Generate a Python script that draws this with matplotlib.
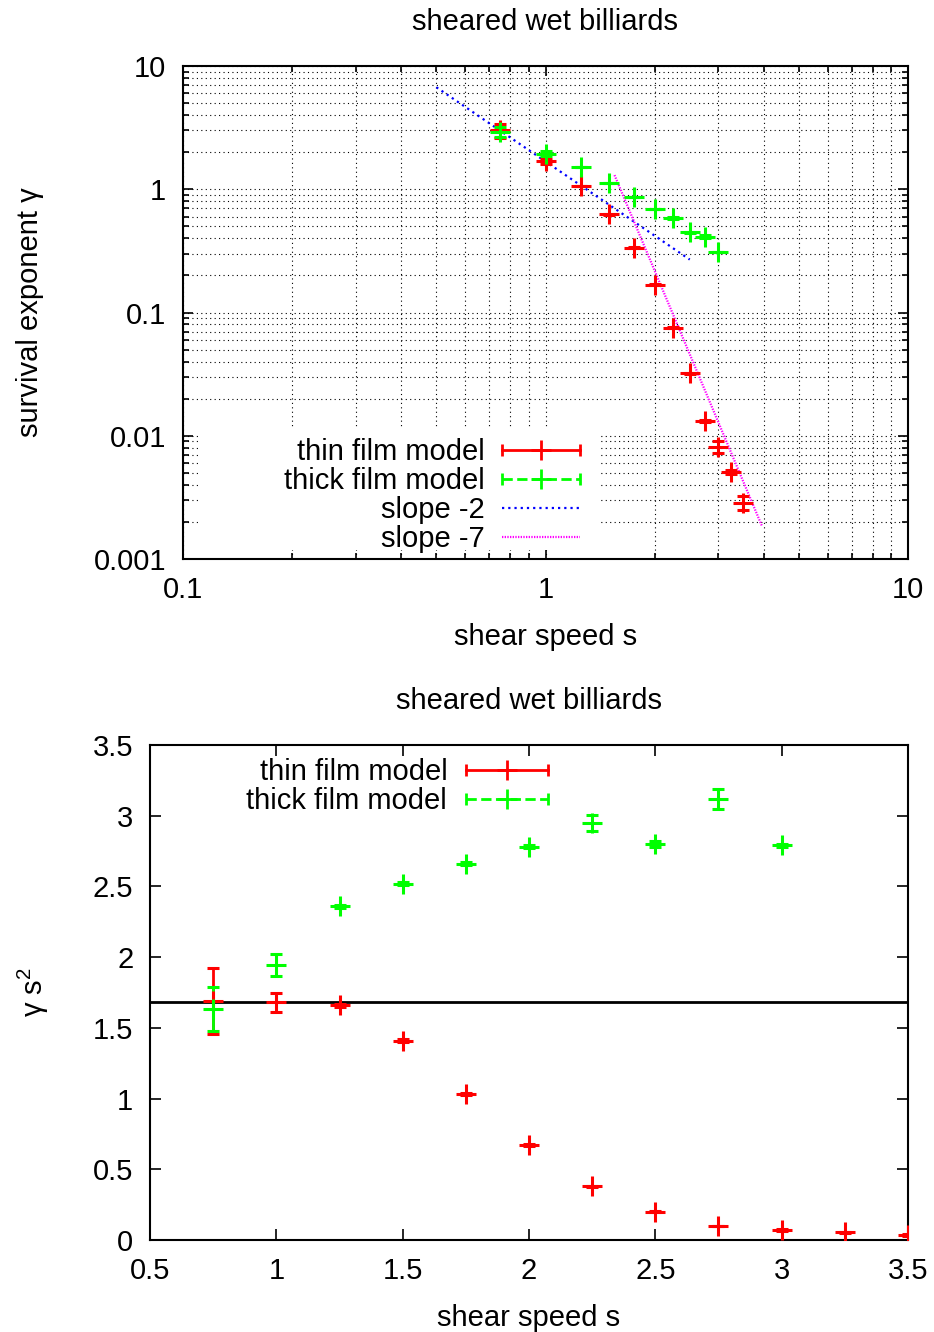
import numpy as np
import matplotlib
matplotlib.use("Agg")
import matplotlib.pyplot as plt
from matplotlib.lines import Line2D
from matplotlib.patches import Rectangle
from matplotlib.legend_handler import HandlerBase

plt.rcParams['font.family'] = ['Liberation Sans', 'DejaVu Sans']
plt.rcParams['font.size'] = 21
plt.rcParams['mathtext.fontset'] = 'custom'
plt.rcParams['mathtext.rm'] = 'Liberation Sans'
plt.rcParams['mathtext.default'] = 'regular'

# shear speeds and gamma*s^2 for both models
s_thin = [0.75, 1.0, 1.25, 1.5, 1.75, 2.0, 2.25, 2.5, 2.75, 3.0, 3.25, 3.5]
gs2_thin = [1.69, 1.68, 1.66, 1.41, 1.03, 0.67, 0.38, 0.20, 0.10, 0.073, 0.054, 0.035]
err_thin = [0.23, 0.065, 0.012, 0.01, 0.008, 0.006, 0.004, 0.003, 0.002, 0.008, 0.002, 0.0045]

s_thick = [0.75, 1.0, 1.25, 1.5, 1.75, 2.0, 2.25, 2.5, 2.75, 3.0]
gs2_thick = [1.635, 1.945, 2.36, 2.52, 2.66, 2.78, 2.95, 2.80, 3.12, 2.79]
err_thick = [0.155, 0.08, 0.01, 0.01, 0.01, 0.01, 0.055, 0.02, 0.07, 0.01]

# power-law guides: A * s^slope
slope2_A, slope2_range = 1.68, (0.5, 2.5)
slope7_A, slope7_range = 28.0, (1.55, 3.95)
plateau = 1.68

s_thin = np.array(s_thin)
s_thick = np.array(s_thick)
gam_thin = np.array(gs2_thin) / s_thin**2
gam_thick = np.array(gs2_thick) / s_thick**2
gerr_thin = np.array(err_thin) / s_thin**2
gerr_thick = np.array(err_thick) / s_thick**2

RED = '#ff0000'
GREEN = '#00ff00'
BLUE = '#0000ff'
MAG = '#ff00ff'


class ErrKey(HandlerBase):
    # gnuplot-style key: horizontal bar with end caps and a cross in the middle
    def create_artists(self, legend, orig_handle, xdescent, ydescent,
                       width, height, fontsize, trans):
        c = orig_handle.get_color()
        y = height / 2 - ydescent
        x0, x1 = -xdescent, width - xdescent
        bar = Line2D([x0, x1], [y, y], color=c, lw=2,
                     linestyle=orig_handle.get_linestyle())
        caps = Line2D([x0, x1], [y, y], ls='none', marker='|', ms=9, mew=2, color=c)
        mid = Line2D([(x0 + x1) / 2], [y], ls='none', marker='+', ms=14, mew=2, color=c)
        for a in (bar, caps, mid):
            a.set_transform(trans)
        return [bar, caps, mid]


def errplot(ax, x, y, e, color):
    ax.errorbar(x, y, yerr=e, fmt='+', color=color, ms=15, mew=2.2,
                elinewidth=2, capsize=4, capthick=2, zorder=4)


W, H = 934, 1332
fig = plt.figure(figsize=(W / 100, H / 100), dpi=100)

# ---- top: log-log
ax1 = fig.add_axes([183 / W, 1 - 559 / H, (908 - 183) / W, (559 - 66) / H])
ax1.set_xscale('log')
ax1.set_yscale('log')
ax1.set_xlim(0.1, 10)
ax1.set_ylim(0.001, 10)
ax1.set_axisbelow(True)

errplot(ax1, s_thin, gam_thin, gerr_thin, RED)
errplot(ax1, s_thick, gam_thick, gerr_thick, GREEN)

xs = np.linspace(*slope2_range, 50)
ax1.plot(xs, slope2_A * xs**-2, color=BLUE, lw=1.6, ls=(0, (1, 1.8)), zorder=3)
xs = np.linspace(*slope7_range, 50)
ax1.plot(xs, slope7_A * xs**-7, color=MAG, lw=1.6, ls=(0, (0.6, 0.6)), zorder=3)

ax1.grid(True, which='both', color='black', lw=0.8, ls=(0, (1, 3)))
ax1.set_xticks([0.1, 1, 10], labels=['0.1', '1', '10'])
ax1.set_yticks([0.001, 0.01, 0.1, 1, 10], labels=['0.001', '0.01', '0.1', '1', '10'])
ax1.tick_params(which='both', direction='in', top=True, right=True, width=1.2)
ax1.tick_params(which='major', length=7, pad=12)
ax1.tick_params(which='minor', length=4)
for sp in ax1.spines.values():
    sp.set_linewidth(1.5)
ax1.set_title('sheared wet billiards', fontsize=21, pad=26)
ax1.set_xlabel('shear speed s', labelpad=14)
ax1.set_ylabel('survival exponent γ', labelpad=36)

# white key area hides the grid behind the legend
ax1.add_patch(Rectangle((0.0234, 0.018), 0.552, 0.248, transform=ax1.transAxes,
                        facecolor='white', edgecolor='none', zorder=1))

h1 = [Line2D([], [], color=RED, ls='-'),
      Line2D([], [], color=GREEN, ls=(0, (3, 1.5))),
      Line2D([], [], color=BLUE, lw=1.6, ls=(0, (1, 1.8))),
      Line2D([], [], color=MAG, lw=1.6, ls=(0, (0.6, 0.6)))]
ax1.legend(h1, ['thin film model', 'thick film model', 'slope -2', 'slope -7'],
           handler_map={h1[0]: ErrKey(), h1[1]: ErrKey()},
           loc='lower right', bbox_to_anchor=((592 - 183) / 725, -0.012),
           markerfirst=False, frameon=False, handlelength=2.7, handletextpad=0.58,
           labelspacing=0.04, borderpad=0.3, borderaxespad=0.1)

# ---- bottom: linear
ax2 = fig.add_axes([150 / W, 1 - 1240 / H, (908 - 150) / W, (1240 - 745) / H])
ax2.set_xlim(0.5, 3.5)
ax2.set_ylim(0, 3.5)
ax2.axhline(plateau, color='black', lw=2, zorder=2)
errplot(ax2, s_thin, gs2_thin, err_thin, RED)
errplot(ax2, s_thick, gs2_thick, err_thick, GREEN)

ticks = np.arange(0.5, 3.51, 0.5)
ax2.set_xticks(ticks, labels=['%g' % t for t in ticks])
ticks = np.arange(0, 3.51, 0.5)
ax2.set_yticks(ticks, labels=['%g' % t for t in ticks])
ax2.tick_params(direction='in', top=True, right=True, length=8, width=1.2, pad=12)
for sp in ax2.spines.values():
    sp.set_linewidth(1.5)
ax2.set_title('sheared wet billiards', fontsize=21, pad=26)
ax2.set_xlabel('shear speed s', labelpad=14)
ax2.set_ylabel('γ s$^2$', labelpad=30)

h2 = [Line2D([], [], color=RED, ls='-'),
      Line2D([], [], color=GREEN, ls=(0, (3, 1.5)))]
ax2.legend(h2, ['thin film model', 'thick film model'],
           handler_map={h2[0]: ErrKey(), h2[1]: ErrKey()},
           loc='upper right', bbox_to_anchor=((561 - 150) / 758, 1.0),
           markerfirst=False, frameon=False, handlelength=2.8, handletextpad=0.65,
           labelspacing=0.04, borderpad=0.3, borderaxespad=0.15)

fig.savefig('out.png', dpi=100)
